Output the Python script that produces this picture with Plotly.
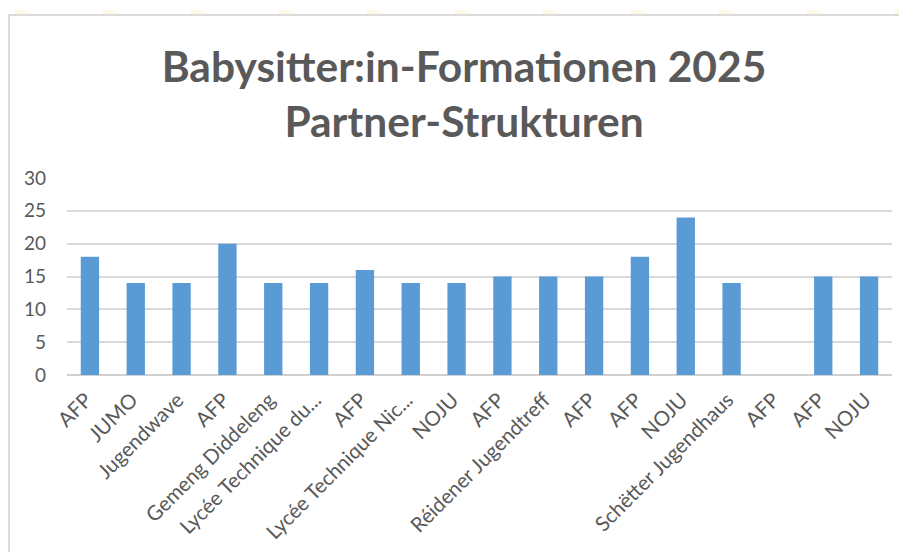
import plotly.graph_objects as go

categories = ["AFP", "JUMO", "Jugendwave", "AFP", "Gemeng Diddeleng", "Lycée Technique du...",
              "AFP", "Lycée Technique Nic...", "NOJU", "AFP", "Réidener Jugendtreff", "AFP",
              "AFP", "NOJU", "Schëtter Jugendhaus", "AFP", "AFP", "NOJU"]
values = [18, 14, 14, 20, 14, 14, 16, 14, 14, 15, 15, 15, 18, 24, 14, None, 15, 15]
y_ticks = [0, 5, 10, 15, 20, 25, 30]

# the page body adds an 8px offset; size the figure to fill the rest of the window
OFF = 8
W, H = 907 - OFF, 552 - OFF
# plot area in page pixels: x 67..892, y 178..375
L, R = 67 - OFF, 907 - 892
T, B = 178 - OFF, 552 - 375
pw, ph = W - L - R, H - T - B


def px_x(x):  # page pixel -> paper
    return (x - OFF - L) / pw


def px_y(y):
    return (552 - B - y) / ph


xs = list(range(len(categories)))

fig = go.Figure()
fig.add_trace(go.Bar(x=xs, y=values, marker=dict(color="#5b9bd5", line=dict(width=0)),
                     hoverinfo="y"))

shapes = []
# faint decorative triangles above the chart frame
for i in range(11):
    x0 = 15 + 88 * i
    shapes.append(dict(type="path", xref="paper", yref="paper",
                       path=f"M {px_x(x0)} {px_y(8)} L {px_x(x0)} {px_y(14)} L {px_x(x0 + 18)} {px_y(14)} Z",
                       fillcolor="#fdf9e6", line=dict(width=0), layer="below"))
# chart frame
shapes.append(dict(type="rect", xref="paper", yref="paper",
                   x0=px_x(9), y0=px_y(570), x1=px_x(925), y1=px_y(15),
                   line=dict(color="#d0d0d0", width=1.5), fillcolor="rgba(0,0,0,0)", layer="below"))

fig.update_layout(
    width=W, height=H,
    margin=dict(l=L, r=R, t=T, b=B, autoexpand=False),
    paper_bgcolor="white", plot_bgcolor="white",
    title=dict(text="<b>Babysitter:in-Formationen 2025<br>Partner-Strukturen</b>",
               x=px_x(464), xref="paper", xanchor="center", y=1 - 74 / H, yanchor="top",
               font=dict(family="Lato", size=42.5, color="#595959")),
    bargap=0.6,
    showlegend=False,
    shapes=shapes,
    xaxis=dict(tickvals=xs, ticktext=categories, tickangle=-45, range=[-0.5, len(categories) - 0.5],
               showgrid=False, zeroline=False, showline=False, ticks="",
               ticklabelstandoff=8, ticklabelshift=-4,
               tickfont=dict(family="Lato", size=20.5, color="#595959")),
    yaxis=dict(range=[0, 30], tickvals=y_ticks, showgrid=True, gridcolor="#d9d9d9", gridwidth=1.5,
               zeroline=True, zerolinecolor="#d0d0d0", zerolinewidth=1.5, showline=False, ticks="",
               ticklabelstandoff=20,
               tickfont=dict(family="Lato", size=19, color="#595959")),
)

fig.write_html("out.html")
